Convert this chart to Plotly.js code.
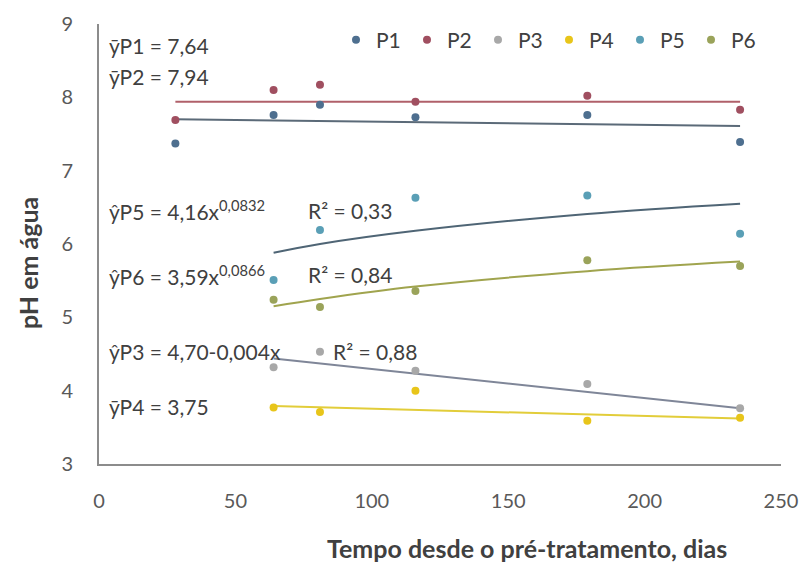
<!DOCTYPE html>
<html>
<head>
<meta charset="utf-8">
<script src="https://cdn.plot.ly/plotly-3.0.1.min.js"></script>
<style>html,body{margin:0;padding:0;background:#fff}#chart{width:801px;height:563px}</style>
</head>
<body>
<div id="chart"></div>
<script>
// ---- data ----
const daysAll = [28, 64, 81, 116, 179, 235];
const daysLate = [64, 81, 116, 179, 235];
const seriesNames = ["P1", "P2", "P3", "P4", "P5", "P6"];
const P1 = [7.37, 7.76, 7.90, 7.73, 7.76, 7.39];
const P2 = [7.69, 8.10, 8.17, 7.94, 8.02, 7.83];
const P3 = [4.32, 4.53, 4.27, 4.09, 3.76];
const P4 = [3.77, 3.71, 4.00, 3.59, 3.63];
const P5 = [5.51, 6.19, 6.63, 6.66, 6.14];
const P6 = [5.24, 5.14, 5.36, 5.78, 5.70];
// fitted trend lines
const fitEndsX = [28, 235];
const fitP1 = [7.70, 7.61];
const fitP2 = [7.94, 7.94];
const fitEndsLateX = [64, 235];
const fitP3 = [4.44, 3.76];
const fitP4 = [3.79, 3.62];
const fitP5 = [5.88, 6.00, 6.18, 6.41, 6.55];
const fitP6 = [5.15, 5.25, 5.42, 5.63, 5.76];
const xTicks = [0, 50, 100, 150, 200, 250];
const yTicks = [3, 4, 5, 6, 7, 8, 9];
const eqTexts = [
  "ȳP1 = 7,64",
  "ȳP2 = 7,94",
  "ŷP5 = 4,16x<sup>0,0832</sup>",
  "ŷP6 = 3,59x<sup>0,0866</sup>",
  "ŷP3 = 4,70-0,004x",
  "ȳP4 = 3,75"
];
const r2Texts = ["R² = 0,33", "R² = 0,84", "R² = 0,88"];
const xTitle = "Tempo desde o pré-tratamento, dias";
const yTitle = "pH em água";

const markerColors = ["#4e6f8f", "#a04f60", "#a8a8a8", "#e8c51a", "#5a9fb6", "#9aa35a"];
const lineColors = ["#5b6a78", "#b0606a", "#7f8698", "#e2cd3a", "#4f6575", "#a0a44e"];
const FONT = "Lato, Liberation Sans, Arial, sans-serif";

const pts = [
  [daysAll, P1], [daysAll, P2], [daysLate, P3], [daysLate, P4], [daysLate, P5], [daysLate, P6]
];
const fits = [
  [fitEndsX, fitP1], [fitEndsX, fitP2], [fitEndsLateX, fitP3], [fitEndsLateX, fitP4],
  [daysLate, fitP5], [daysLate, fitP6]
];

const traces = [];
fits.forEach((f, i) => {
  traces.push({x: f[0], y: f[1], mode: "lines", type: "scatter", showlegend: false,
    hoverinfo: "skip", line: {color: lineColors[i], width: 2, shape: "spline"}});
});
pts.forEach((p, i) => {
  traces.push({x: p[0], y: p[1], mode: "markers", type: "scatter", name: seriesNames[i],
    marker: {color: markerColors[i], size: 8}});
});

const L = 99, R = 20, T = 24, B = 99, W = 801, H = 563;
const pw = W - L - R, ph = H - T - B;

const eqY = [8.71, 8.29, 6.46, 5.58, 4.53, 3.78];
const annotations = eqTexts.map((t, i) => ({
  x: 3, y: eqY[i], xref: "x", yref: "y", text: t, showarrow: false,
  xanchor: "left", yanchor: "middle", font: {family: FONT, size: 21, color: "#404040"}
}));
const r2X = [76, 76, 85];
const r2Y = [6.46, 5.58, 4.53];
r2Texts.forEach((t, i) => annotations.push({
  x: r2X[i], y: r2Y[i], xref: "x", yref: "y", text: t, showarrow: false,
  xanchor: "left", yanchor: "middle", font: {family: FONT, size: 21, color: "#404040"}
}));
annotations.push({
  x: (28 - L) / pw, y: (H - B - 263) / ph, xref: "paper", yref: "paper",
  xanchor: "center", yanchor: "middle",
  text: "<b>" + yTitle + "</b>", showarrow: false,
  textangle: -90, font: {family: FONT, size: 25, color: "#404040"}
});
annotations.push({
  x: (527 - L) / pw, y: (H - B - 548) / ph, xref: "paper", yref: "paper",
  xanchor: "center", yanchor: "middle",
  text: "<b>" + xTitle + "</b>", showarrow: false,
  font: {family: FONT, size: 25, color: "#404040"}
});

const layout = {
  width: W, height: H,
  margin: {l: L, r: R, t: T, b: B},
  paper_bgcolor: "#fff", plot_bgcolor: "#fff",
  showlegend: true,
  legend: {orientation: "h", x: (762 - L) / pw, xanchor: "right", y: (H - B - 40) / ph, yanchor: "middle",
    font: {family: FONT, size: 21, color: "#404040"}, bgcolor: "rgba(0,0,0,0)",
    itemwidth: 30, tracegroupgap: 0, entrywidth: 26, entrywidthmode: "pixels"},
  xaxis: {range: [0, 250], tickvals: xTicks, showgrid: false, zeroline: false,
    showline: true, linecolor: "#8c8c8c", linewidth: 2, ticks: "",
    ticklabelstandoff: 18,
    tickfont: {family: FONT, size: 20, color: "#595959"}},
  yaxis: {range: [3, 9], tickvals: yTicks, showgrid: false, zeroline: false,
    showline: true, linecolor: "#8c8c8c", linewidth: 2, ticks: "",
    ticklabelstandoff: 20,
    tickfont: {family: FONT, size: 20, color: "#595959"}},
  annotations: annotations
};
Plotly.newPlot("chart", traces, layout, {staticPlot: true, displayModeBar: false});
</script>
</body>
</html>
